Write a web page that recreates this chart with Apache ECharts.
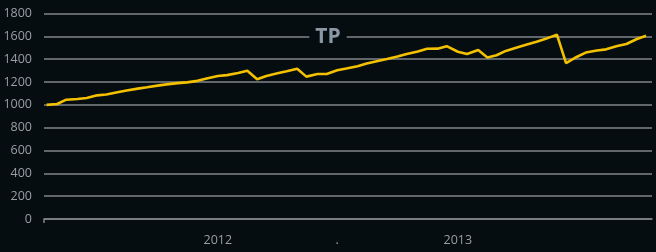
<!DOCTYPE html>
<html>
<head>
<meta charset="utf-8">
<script src="https://cdn.jsdelivr.net/npm/echarts@6/dist/echarts.min.js"></script>
<style>
html,body{margin:0;padding:0;background:#050d11;}
#c{width:656px;height:252px;}
</style>
</head>
<body>
<div id="c"></div>
<script>
const dates = [
 '2011-04-15','2011-05-01','2011-05-15','2011-06-01','2011-06-15','2011-07-01','2011-07-15','2011-08-01','2011-08-15',
 '2011-09-01','2011-09-15','2011-10-01','2011-10-15','2011-11-01','2011-11-15','2011-12-01','2011-12-15',
 '2012-01-01','2012-01-15','2012-02-01','2012-02-15','2012-03-01','2012-03-15','2012-04-01','2012-04-15',
 '2012-05-01','2012-05-15','2012-06-01','2012-06-15','2012-07-01','2012-07-15','2012-08-01','2012-08-15',
 '2012-09-01','2012-09-15','2012-10-01','2012-10-15','2012-11-01','2012-11-15','2012-12-01','2012-12-15',
 '2013-01-01','2013-01-15','2013-02-01','2013-02-15','2013-03-01','2013-03-15','2013-04-01','2013-04-15',
 '2013-05-01','2013-05-15','2013-06-01','2013-06-15','2013-07-01','2013-07-15','2013-08-01','2013-08-15',
 '2013-09-01','2013-09-15','2013-10-01','2013-10-15'
];
const tpValues = [
 1000,1007,1045,1051,1060,1083,1090,1110,1126,
 1142,1154,1168,1179,1190,1197,1210,1231,
 1253,1260,1279,1299,1224,1253,1276,1294,
 1316,1247,1270,1270,1303,1318,1338,1362,
 1384,1401,1423,1445,1468,1491,1492,1514,
 1465,1445,1480,1414,1434,1472,1502,1527,
 1553,1578,1615,1366,1419,1458,1476,1486,
 1515,1533,1577,1605
];
const xTickDates = ['2012-01-01','2012-07-01','2013-01-01'];
const xTickLabels = ['2012','.','2013'];
const yTicks = [0,200,400,600,800,1000,1200,1400,1600,1800];

const ts = d => Date.UTC(+d.slice(0,4), +d.slice(5,7) - 1, +d.slice(8,10));
const xMin = ts('2011-04-11');
const xMax = ts('2013-10-24');
const tickTs = xTickDates.map(ts);

const chart = echarts.init(document.getElementById('c'), null, {renderer:'canvas'});
chart.setOption({
  backgroundColor: '#050d11',
  animation: false,
  title: {
    text: 'TP',
    left: 'center',
    top: 27,
    padding: [0, 6],
    backgroundColor: '#050d11',
    textStyle: {color: '#8a98a3', fontSize: 21, fontWeight: 'bold', fontFamily: 'Open Sans'}
  },
  grid: {left: 44, right: 4, top: 13.5, bottom: 33, containLabel: false},
  xAxis: {
    type: 'value',
    min: xMin,
    max: xMax,
    axisLine: {show: true, lineStyle: {color: '#80858a', width: 1.5}},
    axisTick: {show: true, customValues: [xMin], length: 4, lineStyle: {color: '#80858a', width: 1.5}},
    splitLine: {show: false},
    axisLabel: {
      customValues: tickTs,
      color: '#9a9fa3',
      fontSize: 12.5,
      fontFamily: 'Open Sans',
      margin: 15,
      formatter: function (v) {
        const i = tickTs.indexOf(v);
        return i >= 0 ? xTickLabels[i] : '';
      }
    }
  },
  yAxis: {
    type: 'value',
    min: yTicks[0],
    max: yTicks[yTicks.length - 1],
    interval: 200,
    axisLine: {show: false},
    axisTick: {show: false},
    splitLine: {show: true, lineStyle: {color: '#80858a', width: 1.5}},
    axisLabel: {color: '#9a9fa3', fontSize: 12.5, fontFamily: 'Open Sans', margin: 12,
      formatter: v => String(v)}
  },
  series: [{
    type: 'line',
    name: 'TP',
    data: dates.map((d, i) => [ts(d), tpValues[i]]),
    showSymbol: false,
    lineStyle: {color: '#f4c100', width: 2.6},
    itemStyle: {color: '#f4c100'}
  }]
});
</script>
</body>
</html>
